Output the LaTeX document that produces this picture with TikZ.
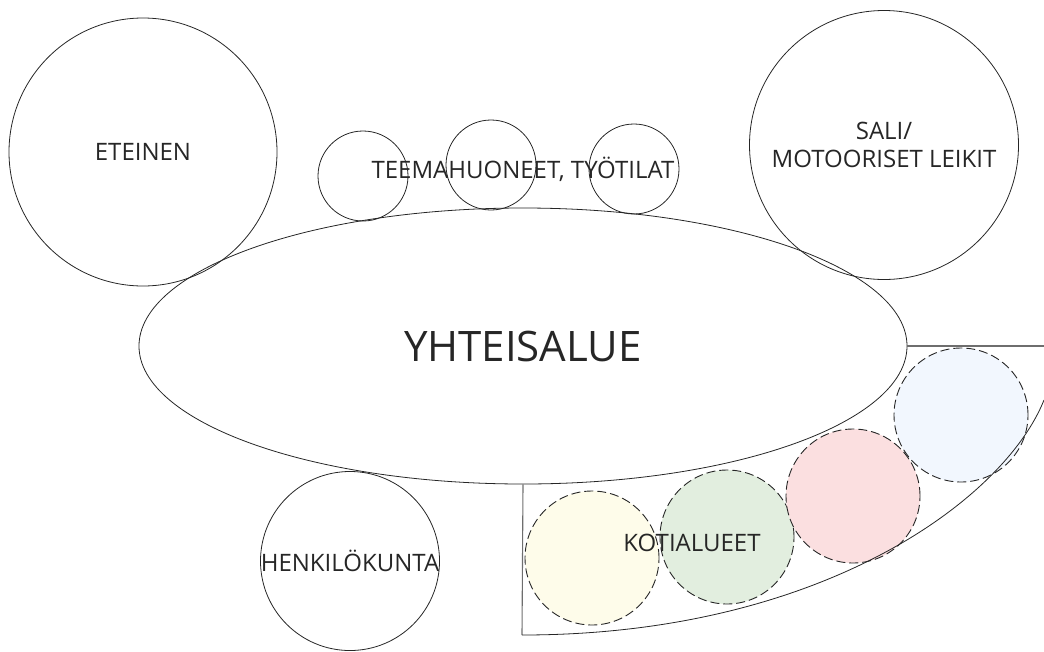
\documentclass[tikz,border=0pt]{standalone}
\usepackage{fontspec}
\setmainfont{Open Sans}
\usepackage{tikz}
\usetikzlibrary{shapes.geometric}
\usepackage{xcolor}
\definecolor{Ink}{HTML}{262626}
\definecolor{Reuna}{HTML}{6E6E6E}
\definecolor{Keltainen}{HTML}{FEFCEA}
\definecolor{Vihrea}{HTML}{E2EEDF}
\definecolor{Puna}{HTML}{FBDFE0}
\definecolor{Sini}{HTML}{F2F7FE}
\newcommand{\pieni}{\fontsize{24}{28}\selectfont}
\tikzset{
  tila/.style={circle,draw=Ink,line width=0.8pt,inner sep=0pt,align=center,text=Ink,font=\pieni},
  koti/.style={circle,draw=Ink,line width=0.9pt,dash pattern=on 9pt off 4pt,inner sep=0pt,minimum size=134pt},
  teksti/.style={text=Ink,font=\pieni,inner sep=0pt,align=center}
}

\begin{document}
\begin{tikzpicture}[x=1pt,y=-1pt]
    \useasboundingbox (0,0) rectangle (1044,651);

    % kotialueet
    \node[koti,fill=Keltainen] (koti1) at (592,558) {};
    \node[koti,fill=Vihrea] (koti2) at (727,537) {};
    \node[koti,fill=Puna] (koti3) at (853,496) {};
    \node[koti,fill=Sini] (koti4) at (961,415) {};

    % tilat
    \node[tila,minimum size=268pt] (eteinen) at (143,152) {ETEINEN};
    \node[tila,minimum size=269pt] (sali) at (884,145) {SALI/\\MOTOORISET LEIKIT};
    \node[tila,minimum size=179pt] (henkilo) at (350,561) {HENKILÖKUNTA};
    \node[tila,minimum size=90pt] (teema1) at (363,176) {};
    \node[tila,minimum size=90pt] (teema2) at (491,165) {};
    \node[tila,minimum size=90pt] (teema3) at (634,169) {};
    \node[ellipse,draw=Ink,line width=0.8pt,minimum width=768pt,minimum height=276pt,
          text=Ink,font=\fontsize{42}{48}\selectfont] (yhteis) at (523,346) {YHTEISALUE};

    \node[teksti] (teema) at (523,169) {TEEMAHUONEET, TYÖTILAT};
    \node[teksti] (kotit) at (692,543) {KOTIALUEET};

    % kotialueiden reuna
    \coordinate (kulma) at (522,635);
    \coordinate (reuna) at (1044,400);
    \coordinate (yla) at (1044,346);
    \draw[Reuna,line width=1.1pt] (yhteis.south) -- (kulma);
    \draw[Ink,line width=0.8pt] (kulma) .. controls (821,635) and (1004,500) .. (reuna);
    \draw[Reuna,line width=1.1pt] (yhteis.east) -- (yla);
\end{tikzpicture}
\end{document}
